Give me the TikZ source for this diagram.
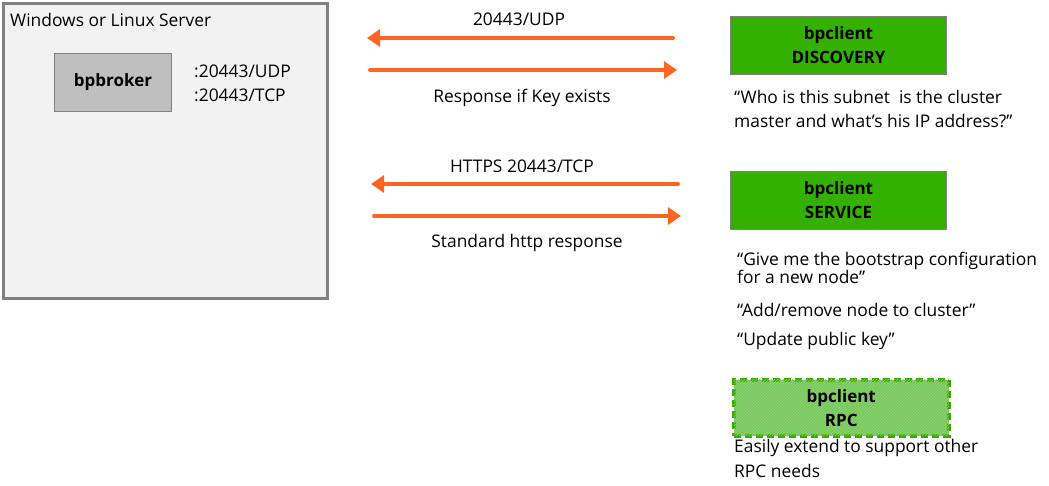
\documentclass[tikz,border=0pt]{standalone}
\usepackage{fontspec}
\setmainfont{Open Sans}
\usetikzlibrary{arrows.meta,patterns}
\definecolor{srvfill}{RGB}{242,242,242}
\definecolor{srvdraw}{RGB}{128,128,128}
\definecolor{brkfill}{RGB}{191,191,191}
\definecolor{orng}{RGB}{255,102,34}
\definecolor{grn}{RGB}{51,176,0}
\definecolor{lgrn}{RGB}{118,200,90}
\definecolor{dgrn}{RGB}{58,170,0}
\tikzset{
  txt/.style={font=\fontsize{17.4}{19}\selectfont, inner sep=0pt},
  lbl/.style={txt, anchor=west, align=left},
  clientbox/.style={draw=srvdraw, line width=1pt, fill=grn, minimum width=216pt, minimum height=58pt, font=\fontsize{17}{24}\selectfont\bfseries, align=center},
  flow/.style={draw=orng, line width=4pt, -{Triangle[length=13pt,width=17pt]}, shorten >=0pt},
}
\begin{document}
\begin{tikzpicture}[x=1pt,y=-1pt]
\useasboundingbox (0,0) rectangle (1049,485);
% server
\node[draw=srvdraw, line width=3pt, fill=srvfill, minimum width=324pt, minimum height=295pt, inner sep=0pt, anchor=north west] (server) at (2,2) {};
\node[lbl] (srvlbl) at (10,20) {Windows or Linux Server};
\node[draw=srvdraw, line width=1pt, fill=brkfill, minimum width=117pt, minimum height=58pt, anchor=north west, font=\fontsize{17}{19}\selectfont\bfseries] (broker) at (54,53) {bpbroker};
\node[lbl] (udp) at (194,71) {:20443/UDP};
\node[lbl] (tcp) at (194,95) {:20443/TCP};
% clients
\node[clientbox, anchor=north west] (disc) at (730,16) {bpclient\\DISCOVERY};
\node[clientbox, anchor=north west] (serv) at (730,171) {bpclient\\SERVICE};
\node[clientbox, anchor=north west, fill=lgrn, draw=dgrn, line width=3.5pt, dash pattern=on 7pt off 4pt, postaction={pattern=north east lines, pattern color=lgrn!80!white}, minimum width=215pt, minimum height=56pt] (rpc) at (732,378) {bpclient\\RPC};
% arrow endpoints
\coordinate (a1s) at (673,38); \coordinate (a1e) at (367,38);
\coordinate (a2s) at (370,70); \coordinate (a2e) at (677,70);
\coordinate (a3s) at (678,184); \coordinate (a3e) at (371,184);
\coordinate (a4s) at (374,216); \coordinate (a4e) at (681,216);
\draw[flow, line cap=round] (a1s) -- (a1e);
\draw[flow, line cap=round] (a2s) -- (a2e);
\draw[flow, line cap=round] (a3s) -- (a3e);
\draw[flow, line cap=round] (a4s) -- (a4e);
\node[txt] (l1) at (519,19) {20443/UDP};
\node[txt] (l2) at (522,98) {Response if Key exists};
\node[txt] (l3) at (522,166) {HTTPS 20443/TCP};
\node[txt] (l4) at (527,243) {Standard http response};
% notes
\node[lbl] (q1) at (734,97) {“Who is this subnet\ \ is the cluster};
\node[lbl] (q1b) at (734,121) {master and what’s his IP address?”};
\node[lbl] (q2) at (737,261) {“Give me the bootstrap configuration};
\node[lbl] (q2b) at (737,277) {for a new node”};
\node[lbl] (q3) at (737,310) {“Add/remove node to cluster”};
\node[lbl] (q4) at (737,341) {“Update public key”};
\node[lbl] (r1) at (734,448) {Easily extend to support other};
\node[lbl] (r2) at (734,471) {RPC needs};
\end{tikzpicture}
\end{document}
